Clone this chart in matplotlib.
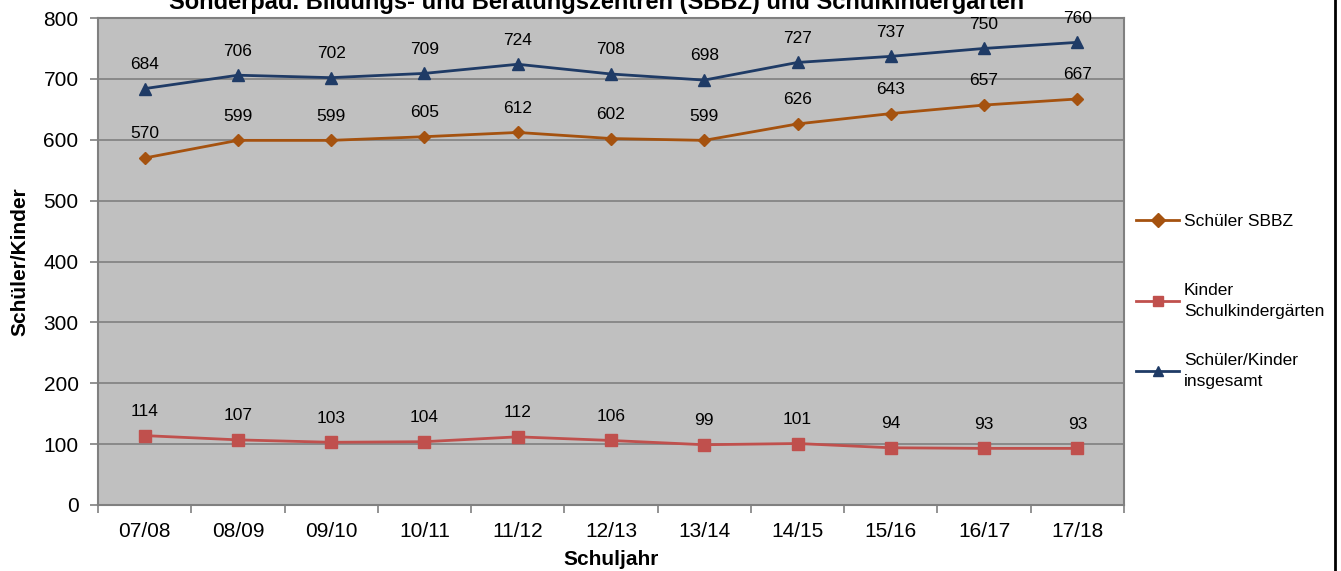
import matplotlib
matplotlib.use("Agg")
import matplotlib.pyplot as plt
from matplotlib.lines import Line2D

plt.rcParams['font.family'] = ['Liberation Sans', 'DejaVu Sans']

years = ["07/08", "08/09", "09/10", "10/11", "11/12", "12/13", "13/14", "14/15", "15/16", "16/17", "17/18"]
sbbz = [570, 599, 599, 605, 612, 602, 599, 626, 643, 657, 667]
kinder = [114, 107, 103, 104, 112, 106, 99, 101, 94, 93, 93]
total = [684, 706, 702, 709, 724, 708, 698, 727, 737, 750, 760]
labels = ["Schüler SBBZ", "Kinder\nSchulkindergärten", "Schüler/Kinder\ninsgesamt"]

c_sbbz = "#A5520F"
c_kind = "#C0504D"
c_tot = "#1F3B66"

fig = plt.figure(figsize=(13.41, 5.71), dpi=100)
ax = fig.add_axes([98/1341, 66/571, (1124-98)/1341, (505-18)/571])
ax.set_facecolor("#C0C0C0")

x = list(range(len(years)))
l1, = ax.plot(x, sbbz, color=c_sbbz, lw=2, marker="D", ms=6, label=labels[0])
l2, = ax.plot(x, kinder, color=c_kind, lw=2, marker="s", ms=9, label=labels[1])
l3, = ax.plot(x, total, color=c_tot, lw=2, marker="^", ms=9, label=labels[2])

for series in (sbbz, kinder, total):
    for xi, v in zip(x, series):
        ax.annotate(str(v), (xi, v), xytext=(0, 12), textcoords="offset points",
                    ha="center", va="bottom", fontsize=12.5)

ax.set_xlim(-0.5, len(years) - 0.5)
ax.set_ylim(0, 800)
ax.set_yticks(range(0, 801, 100))
ax.yaxis.grid(True, color="#808080", lw=1.2)
ax.set_axisbelow(True)
ax.set_xticks(x)
ax.set_xticklabels(years, fontsize=15)
ax.set_xticks([i - 0.5 for i in range(len(years) + 1)], minor=True)
ax.tick_params(axis="x", which="major", length=0, pad=12)
ax.tick_params(axis="x", which="minor", length=6, color="#808080", width=1.2)
ax.tick_params(axis="y", length=6, color="#808080", width=1.2, labelsize=15, pad=8)
for s in ax.spines.values():
    s.set_color("#808080")
    s.set_linewidth(1.5)

ax.set_xlabel("Schuljahr", fontsize=15, fontweight="bold", labelpad=7)
ax.set_ylabel("Schüler/Kinder", fontsize=15, fontweight="bold", labelpad=10)

fig.text(597/1341, 1 - 9/571, "Sonderpäd. Bildungs- und Beratungszentren (SBBZ) und Schulkindergärten",
         ha="center", va="baseline", fontsize=17, fontweight="bold")

centers = [221, 301, 371]
for h, lab, cy in zip((l1, l2, l3), labels, centers):
    lg = fig.legend(handles=[h], labels=[lab], loc="center left",
                    bbox_to_anchor=(1136/1341, 1 - cy/571), frameon=False,
                    fontsize=12.5, handlelength=2.5, handletextpad=0.25,
                    borderpad=0, borderaxespad=0)
    for t in lg.get_texts():
        t.set_linespacing(1.45)
    for hh in lg.legend_handles:
        hh.set_markersize(7)

fig.add_artist(Line2D([1335/1341, 1335/1341], [0, 1], color="black", lw=2, transform=fig.transFigure))

fig.savefig("out.png", dpi=100)
